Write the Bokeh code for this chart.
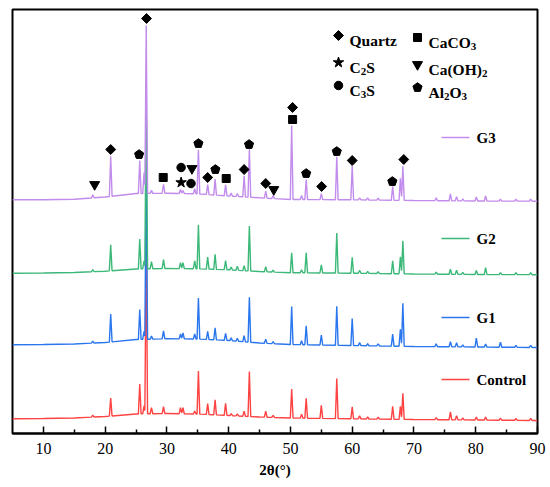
import numpy as np
from bokeh.plotting import figure
from bokeh.models import FixedTicker
from bokeh.embed import file_html
from bokeh.resources import INLINE
from bokeh.core.properties import value

# ---------------- data ----------------
peak_2theta = [18.0, 20.9, 25.6, 26.3, 26.65, 27.5, 29.45, 32.2, 32.6, 34.5,
               35.1, 36.6, 37.8, 39.5, 40.4, 41.4, 42.5, 43.35, 46.0, 47.2,
               50.2, 51.8, 52.55, 55.0, 57.5, 60.0, 61.2, 62.5, 64.2, 66.55,
               67.8, 68.2, 73.6, 75.9, 76.9, 77.9, 80.1, 81.6, 84.0, 86.5, 88.9]

h_control = [2, 18, 30, 8, 175, 6, 7, 6, 6, 3,
             43, 11, 15, 12, 2, 2, 5, 45, 6, 2,
             29, 4, 20, 13, 40, 12, 3, 2, 2, 13,
             13, 26, 2, 8, 4, 2, 3, 3, 2, 2, 2]
h_g1 = [2, 28, 30, 8, 178, 3, 8, 5, 6, 5,
        41, 8, 12, 7, 3, 3, 6, 45, 4, 2,
        38, 4, 19, 10, 39, 27, 3, 2, 2, 12,
        17, 43, 3, 5, 4, 2, 9, 3, 5, 2, 2]
h_g2 = [2, 26, 30, 8, 180, 7, 9, 6, 6, 8,
        44, 12, 15, 9, 3, 4, 5, 45, 5, 2,
        20, 3, 20, 8, 40, 16, 3, 2, 2, 13,
        17, 33, 2, 5, 4, 2, 4, 7, 2, 2, 2]
h_g3 = [3, 40, 33, 21, 168, 3, 9, 4, 3, 5,
        44, 10, 16, 11, 3, 3, 21, 48, 7, 3,
        74, 4, 20, 6, 43, 34, 2, 2, 2, 14,
        22, 34, 3, 7, 4, 2, 4, 5, 2, 2, 2]

baseline_x = [5, 10, 15, 20, 25, 30, 35, 40, 45, 50, 60, 70, 80, 90]
base_control = [14.7, 15, 15.5, 17, 19.5, 20, 19.5, 18, 16.5, 15.5, 14.7, 14, 13.5, 13]
base_g1 = [88.7, 89, 89.5, 91, 94, 94.7, 94.5, 93, 90.5, 89, 88, 87, 86.5, 86]
base_g2 = [160.3, 160.5, 161, 162.3, 164.5, 165, 164.7, 163.7, 162, 160.8, 160.3, 159.5, 159, 158.8]
base_g3 = [233.7, 233.8, 234.3, 236.5, 240, 240.3, 239.7, 237.5, 235.7, 234, 233.7, 233, 232.5, 232.3]

series_names = ["Control", "G1", "G2", "G3"]
series_colors = ["#ff4242", "#2a76ee", "#3cb878", "#c28cec"]

# phase markers over the G3 pattern: phase, 2theta, level
mk_phase = ["CH", "Q", "A", "Q", "CC", "C3S", "C2S", "CH", "C3S", "A",
            "Q", "A", "CC", "Q", "A", "Q", "CH", "Q", "CC", "A",
            "Q", "A", "Q", "A", "Q"]
mk_2theta = [18.3, 20.9, 25.5, 26.7, 29.4, 32.3, 32.3, 34.05, 33.9, 35.1,
             36.6, 37.85, 39.6, 42.5, 43.3, 46.0, 47.3, 50.35, 50.35, 52.55,
             55.05, 57.5, 60.0, 66.5, 68.35]
mk_level = [249, 284, 279, 415, 256, 266, 251, 265, 250, 290,
            256, 264, 255, 264, 289, 250, 244, 326, 314, 260,
            247, 282, 273, 252, 274]

x_ticks = [10, 20, 30, 40, 50, 60, 70, 80, 90]
x_minor = [15, 25, 35, 45, 55, 65, 75, 85]

# ---------------- layout constants ----------------
X0, X1 = 5, 90
Y0, Y1 = 0, 424
FW, FH = 525, 424
SX = FW / (X1 - X0)   # px per 2theta
SY = FH / (Y1 - Y0)   # px per intensity unit
FRAME_L, FRAME_B = 12, 433   # frame edges in page pixels

def px_x(px):
    return X0 + (px - FRAME_L) / SX

def px_y(py):
    return (FRAME_B - py) / SY

p = figure(frame_width=FW, frame_height=FH, x_range=(X0, X1), y_range=(Y0, Y1),
           output_backend="svg", toolbar_location=None, y_axis_location=None,
           min_border_left=12, min_border_right=12, min_border_top=9, min_border_bottom=52)
p.grid.visible = False
p.outline_line_color = "black"
p.outline_line_width = 2
p.background_fill_color = "white"
p.border_fill_color = "white"

ax = p.xaxis[0]
ax.ticker = FixedTicker(ticks=x_ticks, minor_ticks=x_minor)
ax.major_tick_in = 7
ax.major_tick_out = 0
ax.minor_tick_in = 4
ax.minor_tick_out = 0
ax.axis_line_width = 2
ax.major_tick_line_width = 1.5
ax.minor_tick_line_width = 1.5
ax.major_label_text_font = "Liberation Serif"
ax.major_label_text_font_size = "16px"
ax.major_label_text_color = "black"
ax.major_label_standoff = 9
ax.axis_label = "2θ(°)"
ax.axis_label_text_font = "Liberation Serif"
ax.axis_label_text_font_style = "bold"
ax.axis_label_text_font_size = "15px"
ax.axis_label_text_color = "black"
ax.axis_label_standoff = 5

# ---------------- curves ----------------
W = 0.22
def build(heights, base):
    knots = set(baseline_x)
    for pk in peak_2theta:
        knots.update([pk - W, pk, pk + W])
    xs = np.array(sorted(knots))
    ys = np.interp(xs, baseline_x, base)
    for pk, h in zip(peak_2theta, heights):
        ys = ys + h * np.clip(1 - np.abs(xs - pk) / W, 0, None)
    return xs, ys

all_h = [h_control, h_g1, h_g2, h_g3]
all_b = [base_control, base_g1, base_g2, base_g3]
for name, col, hh, bb in zip(series_names, series_colors, all_h, all_b):
    xs, ys = build(hh, bb)
    p.line(xs, ys, line_color=col, line_width=1.4)

# series labels
lab_rows = [379, 317, 238, 137]
FONT = value("Liberation Serif")
for name, col, row in zip(series_names, series_colors, lab_rows):
    p.segment(x0=[px_x(441)], y0=[px_y(row)], x1=[px_x(469)], y1=[px_y(row)],
              line_color=col, line_width=1.6)
    p.text(x=[px_x(476)], y=[px_y(row)], text=[name], text_font=FONT,
           text_font_style="bold", text_font_size="15px", text_color="black",
           text_baseline="middle", text_align="left")

# ---------------- markers ----------------
def draw_marker(kind, xs, ys):
    if len(xs) == 0:
        return
    if kind == "Q":
        p.scatter(xs, ys, marker="square", angle=np.pi / 4, size=7,
                  fill_color="black", line_color="black")
    elif kind == "CC":
        p.scatter(xs, ys, marker="square", size=8, fill_color="black", line_color="black")
    elif kind == "C2S":
        p.scatter(xs, ys, marker="star", size=11, fill_color="black", line_color="black")
    elif kind == "C3S":
        p.scatter(xs, ys, marker="circle", size=8.5, fill_color="black", line_color="black")
    elif kind == "CH":
        p.scatter(xs, ys, marker="inverted_triangle", size=10, fill_color="black", line_color="black")
    elif kind == "A":
        r = 4.8
        pxs, pys = [], []
        for cx, cy in zip(xs, ys):
            ang = np.pi / 2 + np.arange(5) * 2 * np.pi / 5
            pxs.append(list(cx + r * np.cos(ang) / SX))
            pys.append(list(cy + r * np.sin(ang) / SY))
        p.patches(pxs, pys, fill_color="black", line_color="black")

for kind in ["Q", "CC", "C2S", "C3S", "CH", "A"]:
    sel = [i for i, k in enumerate(mk_phase) if k == kind]
    draw_marker(kind, [mk_2theta[i] for i in sel], [mk_level[i] for i in sel])

# ---------------- phase legend ----------------
TB = {"C": 722, "a": 500, "O": 778, "S": 556, "l": 278, "A": 722, "(": 333, ")": 333,
      "H": 778, "Q": 778, "u": 556, "r": 444, "t": 333, "z": 444,
      "2": 500, "3": 500}
legend_items = [
    ("Q", 338, 35, 349, [("Quartz", 0)]),
    ("CC", 417, 37, 428, [("CaCO", 0), ("3", 1)]),
    ("C2S", 338, 62, 349, [("C", 0), ("2", 1), ("S", 0)]),
    ("CH", 417, 64, 428, [("Ca(OH)", 0), ("2", 1)]),
    ("C3S", 338, 85, 349, [("C", 0), ("3", 1), ("S", 0)]),
    ("A", 417, 87, 428, [("Al", 0), ("2", 1), ("O", 0), ("3", 1)]),
]
MAIN_PX, SUB_PX = 15.5, 11
for kind, mpx, row, tpx, pieces in legend_items:
    draw_marker(kind, [px_x(mpx)], [px_y(row)])
    cur = tpx
    base_py = row + 5
    for s, sub in pieces:
        size = SUB_PX if sub else MAIN_PX
        py = base_py + (4 if sub else 0)
        p.text(x=[px_x(cur)], y=[px_y(py)], text=[s], text_font=FONT,
               text_font_style="bold", text_font_size=f"{size}px", text_color="black",
               text_baseline="alphabetic", text_align="left")
        cur += sum(TB.get(c, 500) for c in s) * size / 1000.0

open("out.html", "w").write(file_html(p, INLINE))
